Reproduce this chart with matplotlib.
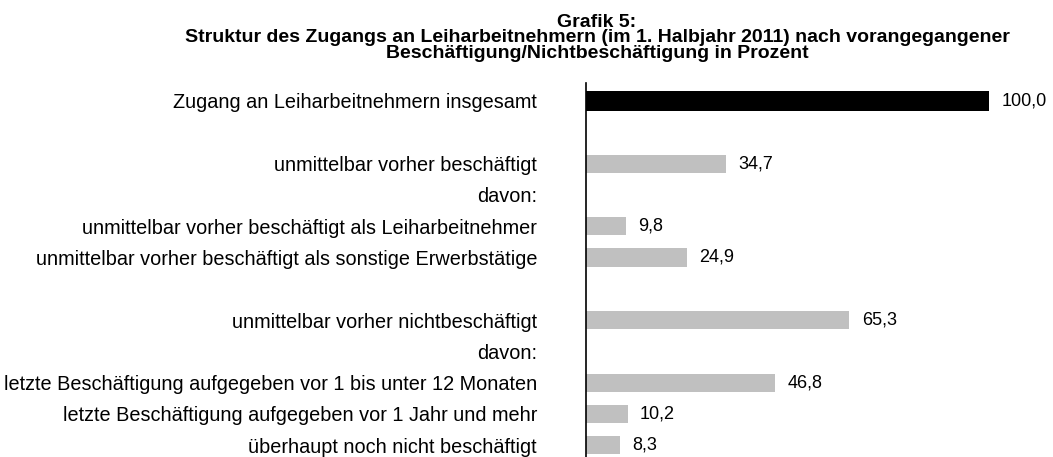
import numpy as np
import matplotlib
matplotlib.use("Agg")
import matplotlib.pyplot as plt

title_lines = [
    "Grafik 5:",
    "Struktur des Zugangs an Leiharbeitnehmern (im 1. Halbjahr 2011) nach vorangegangener",
    "Beschäftigung/Nichtbeschäftigung in Prozent",
]
categories = [
    "Zugang an Leiharbeitnehmern insgesamt",
    "",
    "unmittelbar vorher beschäftigt",
    "davon:",
    "unmittelbar vorher beschäftigt als Leiharbeitnehmer",
    "unmittelbar vorher beschäftigt als sonstige Erwerbstätige",
    "",
    "unmittelbar vorher nichtbeschäftigt",
    "davon:",
    "letzte Beschäftigung aufgegeben vor 1 bis unter 12 Monaten",
    "letzte Beschäftigung aufgegeben vor 1 Jahr und mehr",
    "überhaupt noch nicht beschäftigt",
]
values = [100.0, np.nan, 34.7, np.nan, 9.8, 24.9, np.nan, 65.3, np.nan, 46.8, 10.2, 8.3]
is_total = [True, False, False, False, False, False, False, False, False, False, False, False]

plt.rcParams['font.family'] = ['Liberation Sans', 'DejaVu Sans']

W, H = 1053, 457
fig = plt.figure(figsize=(W / 100, H / 100), dpi=100)

ax_left = 586.5 / W
ax_width = (989 - 586.5) / W
ax_bottom = 0.0
ax_height = (457 - 83) / H
ax = fig.add_axes([ax_left, ax_bottom, ax_width, ax_height])

y = np.arange(len(categories))
for yi, v, tot in zip(y, values, is_total):
    if np.isnan(v):
        continue
    ax.barh(yi, v, height=0.67 if tot else 0.58,
            color='black' if tot else '#C0C0C0', linewidth=0)
    ax.annotate(f"{v:.1f}".replace('.', ','), xy=(v, yi), xytext=(9.0, 0),
                textcoords='offset points', va='center', ha='left',
                fontsize=13, annotation_clip=False)

ax.set_xlim(0, 100)
ax.set_ylim(11.374, -0.575)
ax.set_yticks(y)
ax.set_yticklabels(categories, fontsize=14.3)
ax.set_xticks([])
ax.tick_params(axis='y', length=0, pad=35.6)
for s in ['top', 'right', 'bottom']:
    ax.spines[s].set_visible(False)
ax.spines['left'].set_linewidth(1.2)
ax.spines['left'].set_color('black')
ax.patch.set_alpha(0)

title_x = 597 / W
baselines = [27, 42.5, 58]
for line, b in zip(title_lines, baselines):
    fig.text(title_x, 1 - b / H, line, ha='center', va='baseline',
             fontsize=14, fontweight='bold')

fig.savefig("out.png", dpi=100)
